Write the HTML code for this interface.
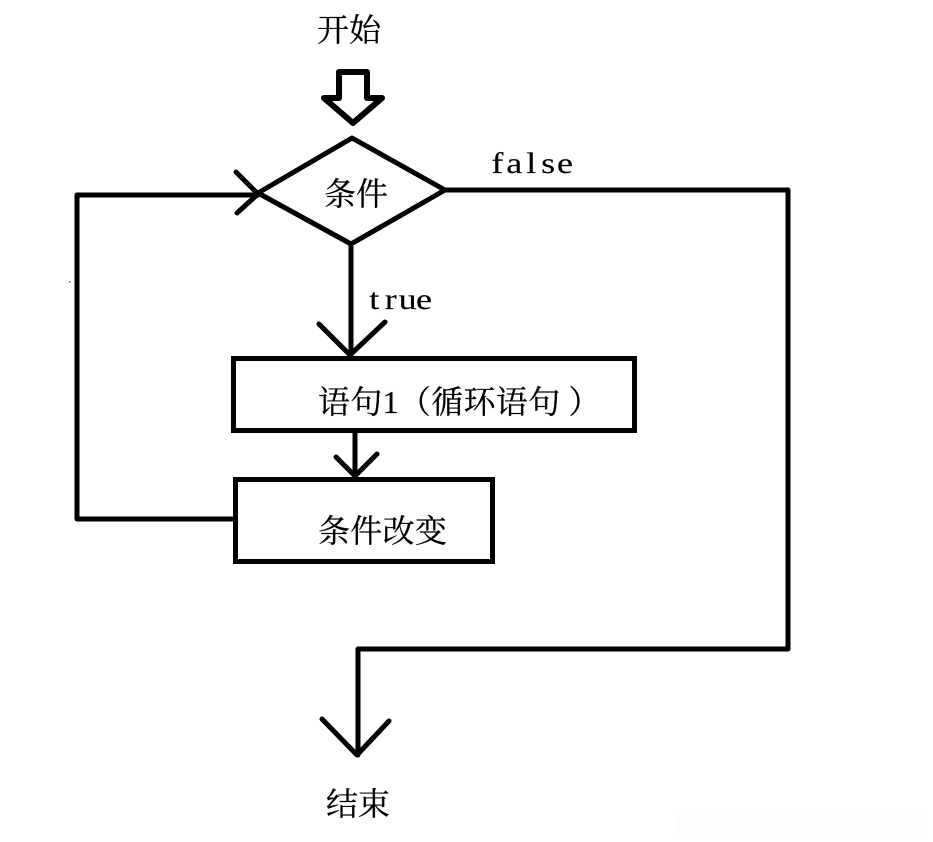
<!DOCTYPE html>
<html lang="zh">
<head>
<meta charset="utf-8">
<style>
html,body{margin:0;padding:0;background:#fff;width:933px;height:842px;overflow:hidden}
svg{display:block}
text{font-family:"Liberation Serif","Noto Serif CJK SC",serif;font-size:32px;fill:#000;stroke:#000;stroke-width:.25px}
text.m{font-size:30px;stroke-width:.15px}
.s{fill:none;stroke:#000;stroke-width:5;stroke-linecap:round;stroke-linejoin:round}
.r{fill:none;stroke:#000;stroke-width:5;stroke-linejoin:miter}
</style>
</head>
<body>
<svg width="933" height="842" viewBox="0 0 933 842" xmlns="http://www.w3.org/2000/svg">
<rect x="675" y="811" width="253" height="22" fill="#fdfdfd"/>
<rect x="69" y="281" width="1.5" height="1.5" fill="#666"/>

<text x="317" y="41">开始</text>
<path class="s" d="M339 98V72H367V98H382L353 123L324 98Z" style="stroke-width:6"/>

<path class="s" d="M352 138L445 190L351 244L258 193Z"/>
<text x="324" y="205">条件</text>
<text class="m" transform="translate(489 173) scale(1.2 1)" x="2 14.4 31 43.4 56.7" y="0">false</text>

<path class="s" d="M445 190H788V649H358V755"/>
<path class="s" d="M322 719L357 755L389 721"/>

<path class="s" d="M351 244V356"/>
<path class="s" d="M319 324L350 355L385 322"/>
<text class="m" transform="translate(366 309) scale(1.2 1)" x="2.7 15.6 27.2 41.7" y="0">true</text>

<rect class="r" x="233.500" y="358.500" width="401" height="72"/>
<text x="318" y="413" style="letter-spacing:.3px">语句1（循环语句<tspan dx="8">）</tspan></text>

<path class="s" d="M355 432V477"/>
<path class="s" d="M336 457L355 476L377 454"/>

<rect class="r" x="235.500" y="479.500" width="257" height="82"/>
<text x="318" y="542" style="letter-spacing:.3px">条件改变</text>

<path class="s" d="M234 519H77V195H258"/>
<path class="s" d="M236 172L258 194L237 213"/>

<text x="326" y="815">结束</text>
</svg>
</body>
</html>
